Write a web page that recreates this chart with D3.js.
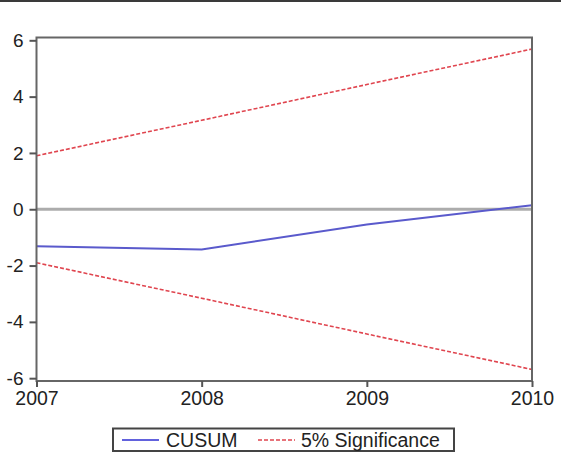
<!DOCTYPE html>
<html>
<head>
<meta charset="utf-8">
<script src="https://cdn.jsdelivr.net/npm/d3@7"></script>
<style>
  body { margin: 0; background: #fff; }
  text { font-family: Arial, "Liberation Sans", sans-serif; fill: #222; }
</style>
</head>
<body>
<div id="chart"></div>
<script>
// years on the x axis
var years = [2007, 2008, 2009, 2010];
// CUSUM values
var cusum = [-1.31, -1.43, -0.54, 0.14];
// 5% significance bounds (upper, lower)
var upper = [1.9, 3.16, 4.43, 5.69];
var lower = [-1.9, -3.16, -4.43, -5.69];
var yTicks = [-6, -4, -2, 0, 2, 4, 6];
var legendLabels = ["CUSUM", "5% Significance"];

var w = 561, h = 472;

var svg = d3.select("#chart")
    .append("svg")
    .attr("width", w)
    .attr("height", h);

// dark strip along the top edge
svg.append("rect")
    .attr("x", 0).attr("y", 0)
    .attr("width", w).attr("height", 2)
    .attr("fill", "#3a3a3a");

var x = d3.scaleLinear().domain([2007, 2010]).range([36.5, 532]);
var y = d3.scaleLinear().domain([-6.1, 6.1]).range([381, 37.5]);

// zero line
svg.append("line")
    .attr("x1", x(2007)).attr("x2", x(2010))
    .attr("y1", y(0)).attr("y2", y(0))
    .attr("stroke", "#acacac")
    .attr("stroke-width", 3);

var line = d3.line()
    .x(function (d, i) { return x(years[i]); })
    .y(function (d) { return y(d); });

// significance bounds
[upper, lower].forEach(function (s) {
    svg.append("path")
        .attr("d", line(s))
        .attr("fill", "none")
        .attr("stroke", "#e0454f")
        .attr("stroke-width", 1.6)
        .attr("stroke-dasharray", "4,2");
});

// CUSUM line
svg.append("path")
    .attr("d", line(cusum))
    .attr("fill", "none")
    .attr("stroke", "#5a5acc")
    .attr("stroke-width", 2);

// frame
svg.append("rect")
    .attr("x", x(2007)).attr("y", y(6.1))
    .attr("width", x(2010) - x(2007))
    .attr("height", y(-6.1) - y(6.1))
    .attr("fill", "none")
    .attr("stroke", "#666")
    .attr("stroke-width", 2);

// y axis
var yAxis = d3.axisLeft(y)
    .tickValues(yTicks)
    .tickSize(7)
    .tickPadding(6)
    .tickFormat(d3.format("d"));

svg.append("g")
    .attr("transform", "translate(" + x(2007) + ",0)")
    .call(yAxis)
    .call(function (g) {
        g.select(".domain").remove();
        g.selectAll("line").attr("stroke", "#555").attr("stroke-width", 2);
        g.selectAll("text")
            .style("font-size", "19px")
            .attr("fill", "#222")
            .text(function (d) { return d < 0 ? "-" + Math.abs(d) : d; });
    });

// x axis
var xAxis = d3.axisBottom(x)
    .tickValues(years)
    .tickSize(6)
    .tickPadding(4)
    .tickFormat(d3.format("d"));

svg.append("g")
    .attr("transform", "translate(0," + y(-6.1) + ")")
    .call(xAxis)
    .call(function (g) {
        g.select(".domain").remove();
        g.selectAll("line").attr("stroke", "#555").attr("stroke-width", 2);
        g.selectAll("text").style("font-size", "19.5px").attr("fill", "#222");
    });

// legend
var legend = svg.append("g");
legend.append("rect")
    .attr("x", 113).attr("y", 428.5)
    .attr("width", 341).attr("height", 22.5)
    .attr("fill", "#fff")
    .attr("stroke", "#444")
    .attr("stroke-width", 2);

legend.append("line")
    .attr("x1", 122).attr("x2", 159)
    .attr("y1", 440).attr("y2", 440)
    .attr("stroke", "#6262dd").attr("stroke-width", 2);
legend.append("text")
    .attr("x", 166).attr("y", 447)
    .style("font-size", "19.5px")
    .text(legendLabels[0]);

legend.append("line")
    .attr("x1", 258).attr("x2", 295)
    .attr("y1", 440).attr("y2", 440)
    .attr("stroke", "#e0454f").attr("stroke-width", 1.6)
    .attr("stroke-dasharray", "4,2");
legend.append("text")
    .attr("x", 301).attr("y", 447)
    .style("font-size", "19.5px")
    .text(legendLabels[1]);
</script>
</body>
</html>
